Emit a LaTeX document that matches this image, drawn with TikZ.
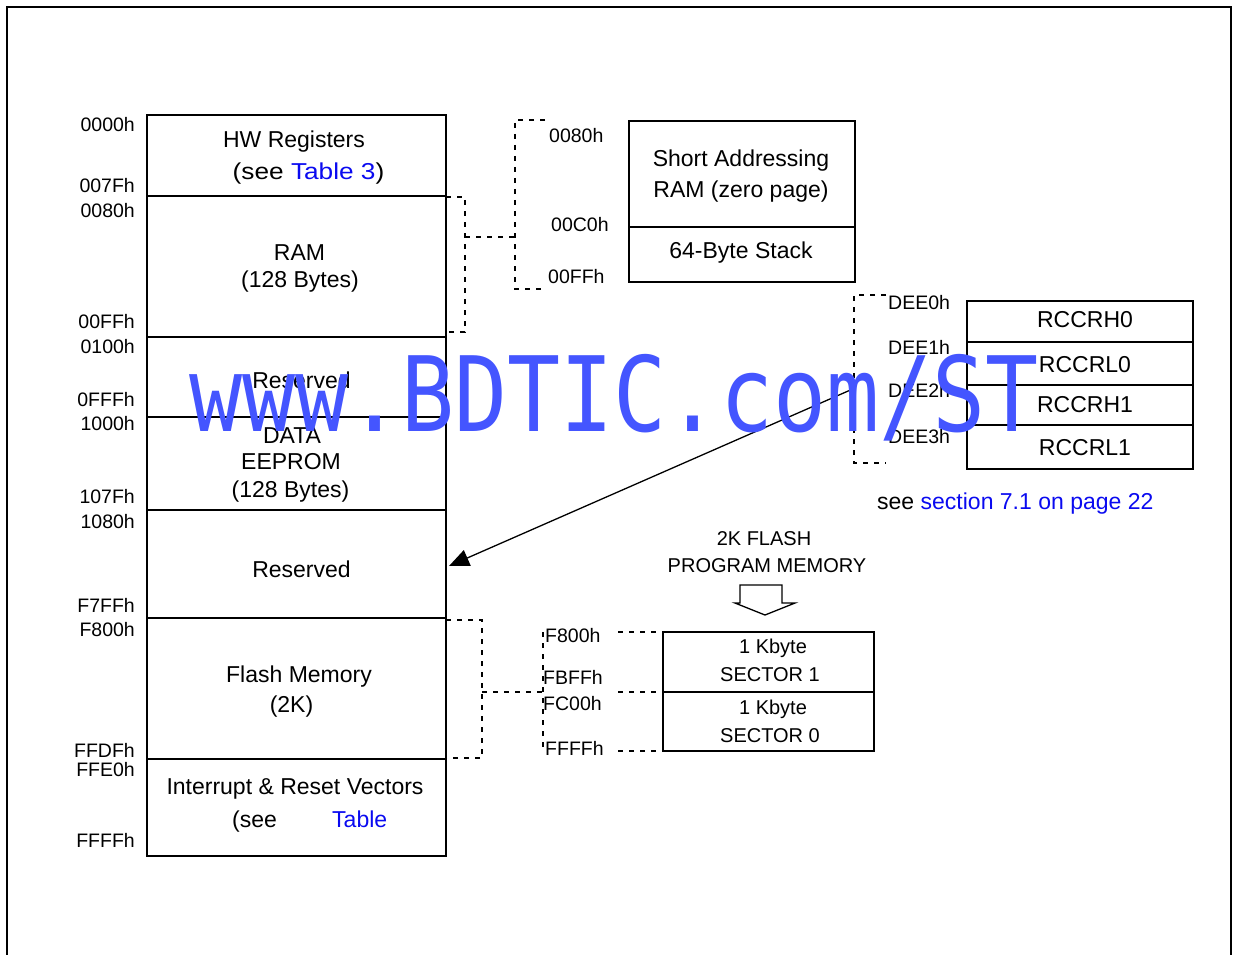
\documentclass[tikz,border=0pt]{standalone}
\usepackage{fontspec}
\setmainfont{Liberation Sans}
\newfontfamily\wmfont{DejaVu Sans Mono}
\usetikzlibrary{arrows.meta}
\definecolor{lnk}{RGB}{10,10,240}
\definecolor{wm}{RGB}{68,85,255}
\begin{document}
\begin{tikzpicture}[x=1pt,y=-1pt,
  region/.style={draw, line width=2pt, minimum width=299pt, inner sep=0pt},
  cell/.style={draw, line width=2pt, inner sep=0pt},
  dsh/.style={line width=1.6pt, dash pattern=on 5pt off 6pt},
  lbl/.style={font=\fontsize{23}{27}\selectfont, inner sep=0pt, anchor=base},
  sml/.style={font=\fontsize{20}{24}\selectfont, inner sep=0pt, anchor=base},
  adr/.style={font=\fontsize{19.5}{23}\selectfont, inner sep=0pt, anchor=base east},
  adl/.style={font=\fontsize{19.5}{23}\selectfont, inner sep=0pt, anchor=base west}]
\useasboundingbox (0,0) rectangle (1235,955);
% outer frame
\draw[line width=2.5pt] (7,1100) -- (7,7) -- (1231,7) -- (1231,1100);

% main memory column
\node[region, minimum height=81pt]  (hw)    at (296.5,155.5) {};
\node[region, minimum height=141pt] (ram)   at (296.5,266.5) {};
\node[region, minimum height=80pt]  (res1)  at (296.5,377) {};
\node[region, minimum height=93pt]  (eep)   at (296.5,463.5) {};
\node[region, minimum height=108pt] (res2)  at (296.5,564) {};
\node[region, minimum height=141pt] (flash) at (296.5,688.5) {};
\node[region, minimum height=97pt]  (irq)   at (296.5,807.5) {};

\node[lbl] (thw1) at (294,148) {HW Registers};
\node[lbl, xscale=1.14] (thw2) at (308.5,179) {(see \textcolor{lnk}{Table 3})};
\node[lbl] (tram1) at (299.5,260) {RAM};
\node[lbl] (tram2) at (300,287) {(128 Bytes)};
\node[lbl] (tres1) at (301.5,388) {Reserved};
\node[lbl] (tee1) at (292,443) {DATA};
\node[lbl] (tee2) at (291,469) {EEPROM};
\node[lbl] (tee3) at (290.5,497) {(128 Bytes)};
\node[lbl] (tres2) at (301.5,577) {Reserved};
\node[lbl] (tfl1) at (299,682) {Flash Memory};
\node[lbl] (tfl2) at (291.5,712) {(2K)};
\node[lbl] (tirq1) at (295,794) {Interrupt \& Reset Vectors};
\node[lbl, anchor=base west] (tirq2) at (232,827) {(see};
\node[lbl, anchor=base west, text=lnk] (tirq3) at (332,827) {Table};

% addresses
\node[adr] (a1) at (135,132) {0000h};
\node[adr] (a2) at (135,193) {007Fh};
\node[adr] (a3) at (135,217) {0080h};
\node[adr] (a4) at (135,328) {00FFh};
\node[adr] (a5) at (135,353) {0100h};
\node[adr] (a6) at (135,406) {0FFFh};
\node[adr] (a7) at (135,430) {1000h};
\node[adr] (a8) at (135,503) {107Fh};
\node[adr] (a9) at (135,528) {1080h};
\node[adr] (a10) at (135,612) {F7FFh};
\node[adr] (a11) at (135,636) {F800h};
\node[adr] (a12) at (135,757) {FFDFh};
\node[adr] (a13) at (135,776) {FFE0h};
\node[adr] (a14) at (135,847) {FFFFh};

% RAM bracket
\draw[dsh] (446,197) -- (465,197) -- (465,332) -- (446,332);
\draw[dsh] (465,237) -- (515,237);
\draw[dsh] (545,120) -- (515,120) -- (515,289) -- (545,289);
\node[adl] (b1) at (549,143) {0080h};
\node[adl] (b2) at (551,231) {00C0h};
\node[adl] (b3) at (548,283) {00FFh};

% short addressing box
\node[cell, minimum width=226pt, minimum height=106pt] (sa) at (742,174) {};
\node[cell, minimum width=226pt, minimum height=55pt] (stk) at (742,254.5) {};
\node[lbl] (tsa1) at (741,167) {Short Addressing};
\node[lbl] (tsa2) at (741,197) {RAM (zero page)};
\node[lbl] (tstk) at (741,258) {64-Byte Stack};

% RCCR bracket and registers
\draw[dsh] (886,295) -- (854,295) -- (854,463) -- (886,463);
\node[adl] (d0) at (888,309) {DEE0h};
\node[adl] (d1) at (888,354) {DEE1h};
\node[adl] (d2) at (888,397) {DEE2h};
\node[adl] (d3) at (888,443) {DEE3h};
\node[cell, minimum width=226pt, minimum height=41pt] (r0) at (1080,321.5) {};
\node[cell, minimum width=226pt, minimum height=43pt] (r1) at (1080,363.5) {};
\node[cell, minimum width=226pt, minimum height=40pt] (r2) at (1080,405) {};
\node[cell, minimum width=226pt, minimum height=44pt] (r3) at (1080,447) {};
\node[lbl] (tr0) at (1085,327) {RCCRH0};
\node[lbl] (tr1) at (1085,372) {RCCRL0};
\node[lbl] (tr2) at (1085,412) {RCCRH1};
\node[lbl] (tr3) at (1085,455) {RCCRL1};
\node[lbl, anchor=base west] (see) at (877,509) {see \textcolor{lnk}{section 7.1 on page 22}};

% arrow to reserved area
\coordinate (arrs) at (855,388);
\draw[line width=1.3pt, -{Triangle[length=20pt,width=17pt]}] (arrs) -- ([xshift=2pt,yshift=-2pt]res2.east);

% flash program memory
\node[sml] (f1) at (764,545) {2K FLASH};
\node[sml] (f2) at (767,572) {PROGRAM MEMORY};
\draw[line width=1.3pt] (740,585) -- (782,585) -- (782,603) -- (795,603) -- (765,615) -- (735,603) -- (740,603) -- cycle;

\node[cell, minimum width=211pt, minimum height=60pt] (s1) at (768.5,662) {};
\node[cell, minimum width=211pt, minimum height=59pt] (s0) at (768.5,721.5) {};
\node[sml] (ts1a) at (773,653) {1 Kbyte};
\node[sml] (ts1b) at (770,681) {SECTOR 1};
\node[sml] (ts0a) at (773,714) {1 Kbyte};
\node[sml] (ts0b) at (770,742) {SECTOR 0};

\draw[dsh] (446,620) -- (482,620) -- (482,758) -- (446,758);
\draw[dsh] (482,692) -- (543,692);
\draw[dsh] (543,632) -- (543,751);
\draw[dsh] (618,632) -- (663,632);
\draw[dsh] (618,692) -- (663,692);
\draw[dsh] (618,751) -- (663,751);
\node[adl] (e1) at (545,642) {F800h};
\node[adl] (e2) at (543,684) {FBFFh};
\node[adl] (e3) at (543,710) {FC00h};
\node[adl] (e4) at (545,755) {FFFFh};

% watermark
\node[font=\wmfont\fontsize{104}{110}\selectfont, text=wm, inner sep=0pt, anchor=base west, xscale=0.848] (wmk) at (189,431) {www.BDTIC.com/ST};
\end{tikzpicture}
\end{document}
